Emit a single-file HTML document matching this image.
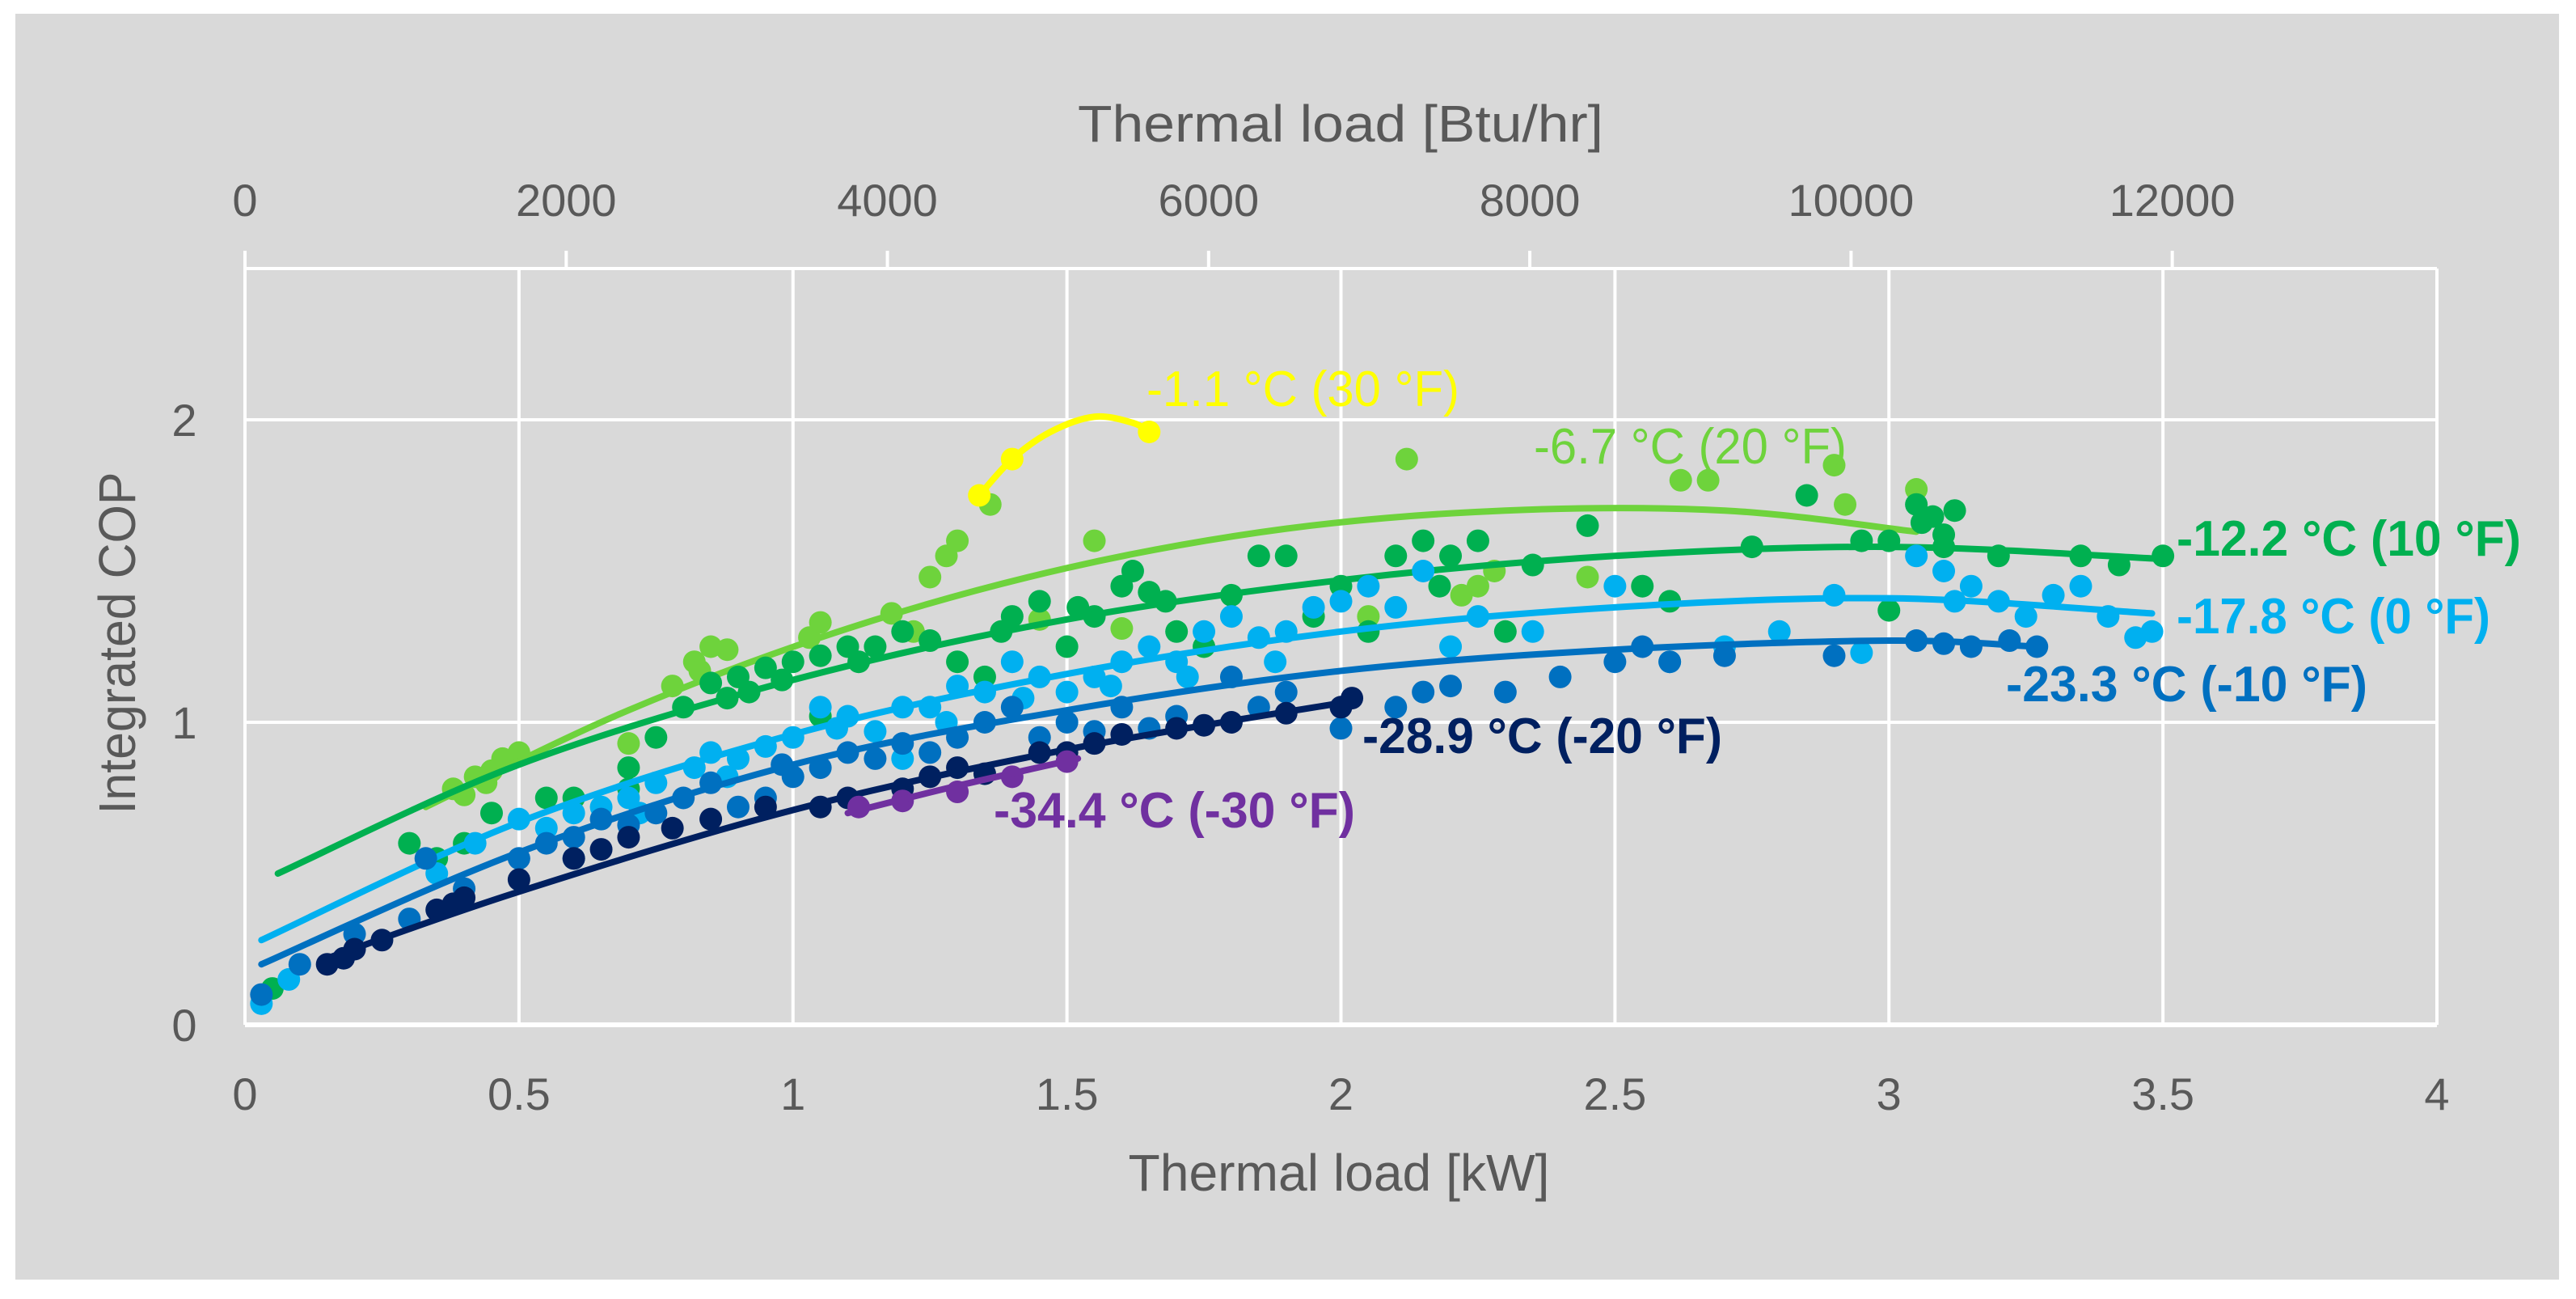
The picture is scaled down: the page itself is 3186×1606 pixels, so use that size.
<!DOCTYPE html>
<html><head><meta charset="utf-8"><style>
html,body{margin:0;padding:0;background:#fff;width:3186px;height:1606px;overflow:hidden}
svg{display:block}
text{font-family:"Liberation Sans",sans-serif}
</style></head><body>
<svg id="chart" width="3186" height="1606" viewBox="0 0 3186 1606" xmlns="http://www.w3.org/2000/svg">
<rect x="19" y="17" width="3146" height="1565" fill="#d9d9d9"/>
<g id="grid"></g>
<g id="series"></g>
<g id="axes"></g>
<g id="labels"></g>
<text x="1658" y="175" text-anchor="middle" font-size="64" fill="#595959" textLength="650" lengthAdjust="spacingAndGlyphs">Thermal load [Btu/hr]</text>
<text x="1656" y="1472" text-anchor="middle" font-size="64" fill="#595959" textLength="521" lengthAdjust="spacingAndGlyphs">Thermal load [kW]</text>
<text transform="translate(167,795) rotate(-90)" x="0" y="0" text-anchor="middle" font-size="64" fill="#595959" textLength="423" lengthAdjust="spacingAndGlyphs">Integrated COP</text>
</svg>
<script>
const xTicks=[0,0.5,1,1.5,2,2.5,3,3.5,4];
const xTickLabels=["0","0.5","1","1.5","2","2.5","3","3.5","4"];
const yTicks=[0,1,2];
const yTickLabels=["0","1","2"];
const btuTicks=[0,2000,4000,6000,8000,10000,12000];
const btuTickLabels=["0","2000","4000","6000","8000","10000","12000"];

const seriesNames=["-6.7 °C (20 °F)","-12.2 °C (10 °F)","-17.8 °C (0 °F)","-23.3 °C (-10 °F)","-28.9 °C (-20 °F)","-34.4 °C (-30 °F)","-1.1 °C (30 °F)"];
const seriesColors=["#6ed33c","#00b050","#00b0f0","#0070c0","#002060","#7030a0","#ffff00"];

const ptsLG=[[0.38,0.78],[0.42,0.82],[0.45,0.84],[0.5,0.9],[0.47,0.88],[0.78,1.12],[0.82,1.2],[0.85,1.25],[0.88,1.24],[1.03,1.28],[1.05,1.33],[1.18,1.36],[1.25,1.48],[1.28,1.55],[1.3,1.6],[1.36,1.72],[1.55,1.6],[1.45,1.34],[2.12,1.87],[2.25,1.45],[2.28,1.5],[2.45,1.48],[2.62,1.8],[2.67,1.8],[2.92,1.72],[3.05,1.77],[2.9,1.85],[0.7,0.93],[1.6,1.31],[2.05,1.35],[0.4,0.76],[0.83,1.17],[0.44,0.8],[1.22,1.3],[2.22,1.42]];
const ptsG=[[0.05,0.12],[0.3,0.6],[0.35,0.55],[0.4,0.6],[0.55,0.75],[0.6,0.75],[0.7,0.85],[0.75,0.95],[0.8,1.05],[0.85,1.13],[0.9,1.15],[0.92,1.1],[0.95,1.18],[1.0,1.2],[1.05,1.22],[1.1,1.25],[1.15,1.25],[1.2,1.3],[1.25,1.27],[1.3,1.2],[1.35,1.15],[1.4,1.35],[1.45,1.4],[1.5,1.25],[1.55,1.35],[1.6,1.45],[1.65,1.43],[1.7,1.3],[1.75,1.25],[1.8,1.42],[1.85,1.55],[1.9,1.55],[2.0,1.45],[2.05,1.3],[2.1,1.55],[2.15,1.6],[2.2,1.55],[2.25,1.6],[2.3,1.3],[2.45,1.65],[2.6,1.4],[2.75,1.58],[2.85,1.75],[2.95,1.6],[3.0,1.6],[3.05,1.72],[3.08,1.68],[3.1,1.62],[3.12,1.7],[3.2,1.55],[3.35,1.55],[3.42,1.52],[3.5,1.55],[3.0,1.37],[1.05,1.02],[0.7,0.78],[0.45,0.7],[1.62,1.5],[0.88,1.08],[0.98,1.14],[1.12,1.2],[1.38,1.3],[1.52,1.38],[1.68,1.4],[1.95,1.35],[2.18,1.45],[2.35,1.52],[2.55,1.45],[3.06,1.66],[3.1,1.58]];
const ptsLB=[[0.03,0.07],[0.08,0.15],[0.35,0.5],[0.42,0.6],[0.5,0.68],[0.55,0.65],[0.6,0.7],[0.65,0.72],[0.7,0.75],[0.75,0.8],[0.82,0.85],[0.85,0.9],[0.9,0.88],[0.95,0.92],[1.0,0.95],[1.05,1.05],[1.1,1.02],[1.15,0.97],[1.2,1.05],[1.25,1.05],[1.3,1.12],[1.35,1.1],[1.4,1.2],[1.45,1.15],[1.5,1.1],[1.55,1.15],[1.6,1.2],[1.65,1.25],[1.7,1.2],[1.75,1.3],[1.8,1.35],[1.85,1.28],[1.9,1.3],[1.95,1.38],[2.0,1.4],[2.05,1.45],[2.15,1.5],[2.25,1.35],[2.35,1.3],[2.5,1.45],[2.6,1.2],[2.7,1.25],[2.8,1.3],[2.9,1.42],[3.05,1.55],[3.1,1.5],[3.15,1.45],[3.2,1.4],[3.25,1.35],[3.3,1.42],[3.35,1.45],[3.4,1.35],[3.45,1.28],[3.48,1.3],[2.95,1.23],[0.6,0.55],[1.2,0.88],[0.72,0.7],[0.88,0.82],[1.08,0.98],[1.28,1.0],[1.42,1.08],[1.58,1.12],[1.72,1.15],[1.88,1.2],[2.1,1.38],[2.2,1.25],[3.12,1.4]];
const ptsB=[[0.03,0.1],[0.1,0.2],[0.2,0.3],[0.3,0.35],[0.4,0.45],[0.5,0.55],[0.55,0.6],[0.65,0.68],[0.75,0.7],[0.8,0.75],[0.85,0.8],[0.9,0.72],[0.95,0.75],[1.0,0.82],[1.05,0.85],[1.1,0.9],[1.15,0.88],[1.2,0.93],[1.3,0.95],[1.35,1.0],[1.4,1.05],[1.5,1.0],[1.55,0.97],[1.6,1.05],[1.7,1.02],[1.8,1.15],[1.9,1.1],[2.0,0.98],[2.1,1.05],[2.2,1.12],[2.3,1.1],[2.4,1.15],[2.5,1.2],[2.55,1.25],[2.7,1.22],[2.9,1.22],[3.05,1.27],[3.15,1.25],[3.22,1.27],[3.27,1.25],[0.33,0.55],[0.6,0.62],[0.7,0.66],[0.98,0.86],[1.25,0.9],[1.45,0.95],[1.65,0.98],[1.85,1.05],[2.15,1.1],[2.6,1.2],[3.1,1.26]];
const ptsN=[[0.15,0.2],[0.2,0.25],[0.25,0.28],[0.35,0.38],[0.4,0.42],[0.5,0.48],[0.6,0.55],[0.7,0.62],[0.78,0.65],[0.85,0.68],[0.95,0.72],[1.05,0.72],[1.1,0.75],[1.2,0.78],[1.3,0.85],[1.35,0.83],[1.45,0.9],[1.55,0.93],[1.6,0.96],[1.7,0.98],[1.8,1.0],[1.9,1.03],[2.0,1.05],[2.02,1.08],[0.18,0.22],[0.38,0.4],[0.65,0.58],[1.25,0.82],[1.5,0.9],[1.75,0.99]];
const ptsP=[[1.12,0.72],[1.2,0.74],[1.3,0.77],[1.4,0.82],[1.5,0.87]];
const ptsY=[[1.34,1.75],[1.4,1.87],[1.65,1.96]];

const trendXLG=[0.33,0.7,1.1,1.5,1.9,2.3,2.7,3.05];
const trendYLG=[0.72,1.04,1.31,1.51,1.64,1.70,1.70,1.63];
const trendXG=[0.06,0.5,1,1.5,2,2.5,3,3.5];
const trendYG=[0.50,0.86,1.14,1.34,1.47,1.55,1.58,1.54];
const trendXLB=[0.03,0.5,1,1.5,2,2.5,3,3.48];
const trendYLB=[0.28,0.67,0.96,1.16,1.30,1.38,1.41,1.36];
const trendXB=[0.03,0.5,1,1.5,2,2.5,3,3.27];
const trendYB=[0.20,0.57,0.86,1.04,1.17,1.24,1.27,1.25];
const trendXN=[0.15,0.5,1,1.5,2.02];
const trendYN=[0.22,0.44,0.71,0.91,1.07];
const trendXP=[1.1,1.3,1.52];
const trendYP=[0.70,0.79,0.88];
const trendXY=[1.34,1.4,1.47,1.55,1.62,1.65];
const trendYY=[1.75,1.87,1.96,2.01,1.99,1.96];

const NS="http://www.w3.org/2000/svg";
const X0=303,X1=3014,Y0=1267,YT=332,XMAX=4,YMAX=2.5,BTU_PER_KW=3412;
const sx=v=>X0+(X1-X0)*v/XMAX;
const sy=v=>Y0-(Y0-YT)*v/YMAX;
const sb=v=>sx(v/BTU_PER_KW);
function mk(tag,attrs,parent){const e=document.createElementNS(NS,tag);for(const k in attrs)e.setAttribute(k,attrs[k]);parent.appendChild(e);return e;}

const grid=document.getElementById('grid');
xTicks.forEach((t,i)=>{
  const l=mk('line',{x1:sx(t),x2:sx(t),y1:YT,y2:Y0,stroke:'#fff','stroke-width':4},grid);
  
  
});
yTicks.concat([2.5]).forEach(t=>{
  const l=mk('line',{x1:X0,x2:X1,y1:sy(t),y2:sy(t),stroke:'#fff','stroke-width':t===0?6:4},grid);
  
  
});

const axes=document.getElementById('axes');
xTicks.forEach((t,i)=>{
  const e=mk('text',{x:sx(t),y:1372,'text-anchor':'middle','font-size':56,fill:'#595959'},axes);
  e.textContent=xTickLabels[i];
  
  
});
yTicks.forEach((t,i)=>{
  const e=mk('text',{x:228,y:sy(t)+20,'text-anchor':'middle','font-size':56,fill:'#595959'},axes);
  e.textContent=yTickLabels[i];
  
  
});
btuTicks.forEach((t,i)=>{
  const tk=mk('line',{x1:sb(t),x2:sb(t),y1:310,y2:YT,stroke:'#fff','stroke-width':4},axes);
  
  
  const e=mk('text',{x:sb(t),y:267,'text-anchor':'middle','font-size':56,fill:'#595959'},axes);
  e.textContent=btuTickLabels[i];
  
  
});

const seriesPts=[ptsLG,ptsG,ptsLB,ptsB,ptsN,ptsP,ptsY];
const trendXs=[trendXLG,trendXG,trendXLB,trendXB,trendXN,trendXP,trendXY];
const trendYs=[trendYLG,trendYG,trendYLB,trendYB,trendYN,trendYP,trendYY];
const sg=document.getElementById('series');
function smoothPath(xs,ys){
  const p=xs.map((x,i)=>[sx(x),sy(ys[i])]);
  let d='M'+p[0][0]+','+p[0][1];
  for(let i=0;i<p.length-1;i++){
    const a=p[i-1]||p[i],b=p[i],c=p[i+1],e=p[i+2]||c;
    const c1=[b[0]+(c[0]-a[0])/6,b[1]+(c[1]-a[1])/6];
    const c2=[c[0]-(e[0]-b[0])/6,c[1]-(e[1]-b[1])/6];
    d+=' C'+c1[0]+','+c1[1]+' '+c2[0]+','+c2[1]+' '+c[0]+','+c[1];
  }
  return d;
}
seriesPts.forEach((pts,si)=>{
  const g=mk('g',{},sg);
  
  
  pts.forEach(p=>{
    const c=mk('circle',{cx:sx(p[0]),cy:sy(p[1]),r:14,fill:seriesColors[si]},g);
    
    
  });
  const path=mk('path',{d:smoothPath(trendXs[si],trendYs[si]),fill:'none',stroke:seriesColors[si],'stroke-width':8,'stroke-linecap':'round'},g);
  
  
});

const labelX=[1897,2692,2692,2481,1685,1229,1418];
const labelY=[573,687,783,867,931,1023,502];
const labelW=[387,426,388,447,445,447,387];
const lg=document.getElementById('labels');
seriesNames.forEach((n,i)=>{
  const e=mk('text',{x:labelX[i],y:labelY[i],'font-size':62,'font-weight':i===0||i===6?'normal':'bold',fill:seriesColors[i],textLength:labelW[i],lengthAdjust:'spacingAndGlyphs'},lg);
  e.textContent=n;
  
  
});
</script>
</body></html>
